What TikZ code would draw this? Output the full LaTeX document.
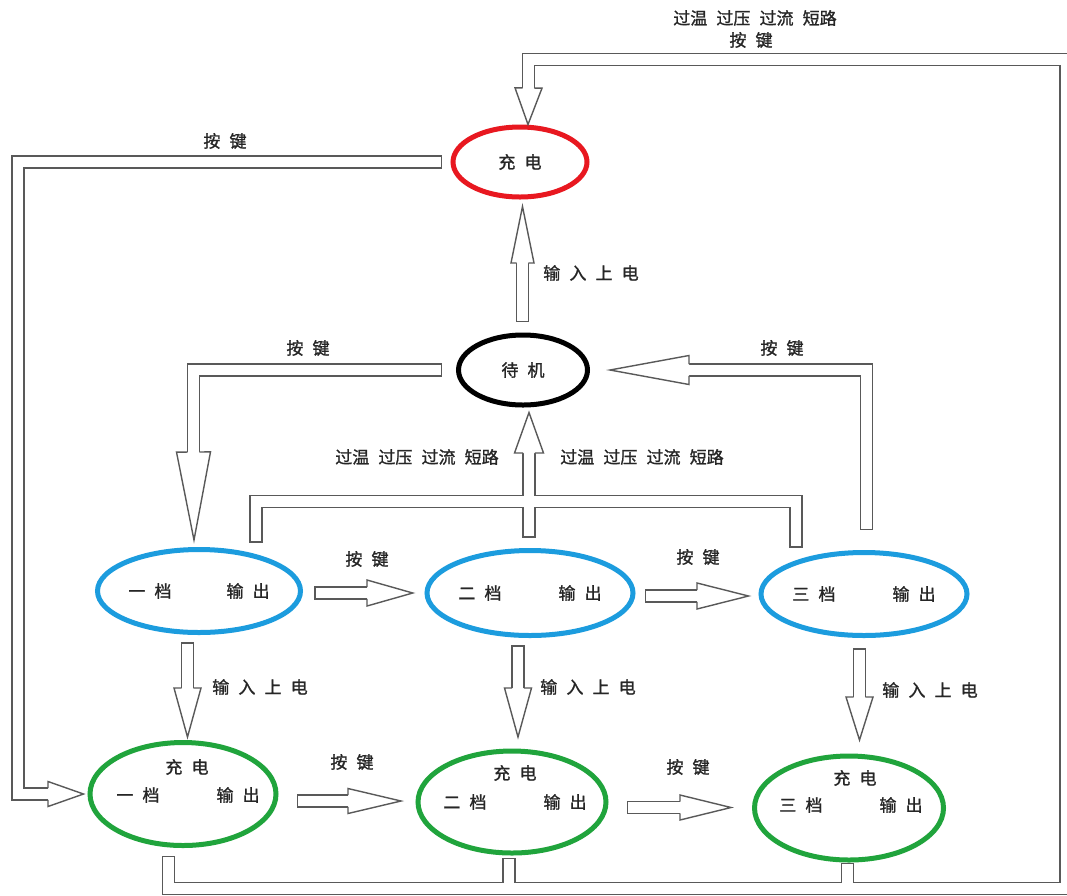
\documentclass[tikz,border=0pt]{standalone}
\usepackage{fontspec}
\newfontfamily\cjk[WordSpace=2.4, FakeBold=1.2]{Noto Sans CJK SC}
\usetikzlibrary{shapes.geometric,calc}

\definecolor{chgred}{RGB}{232,24,32}
\definecolor{gearblue}{RGB}{28,156,222}
\definecolor{chggreen}{RGB}{32,164,60}

\begin{document}
\begin{tikzpicture}[
    x=1pt, y=-1pt,
    every node/.style={font=\cjk\fontsize{17}{20}\selectfont, text=black!85, inner sep=0pt},
    modebox/.style={ellipse, draw, line width=5pt},
    shaft/.style={draw=black!65, line width=1.4pt, double=white, double distance=10.3pt,
                  line cap=rect, line join=miter},
    hollowtip/.style={draw=black!65, fill=white, line width=1.4pt, line join=miter,
        to path={($(\tikztostart)!5.85pt!90:(\tikztotarget)$) -- ($(\tikztostart)!#1!90:(\tikztotarget)$)
                 -- (\tikztotarget) -- ($(\tikztostart)!#1!-90:(\tikztotarget)$)
                 -- ($(\tikztostart)!5.85pt!-90:(\tikztotarget)$)}},
    hollowtip/.default=13.5pt]
    \fill[white] (0,0) rectangle (1067,895);
    \useasboundingbox (0,0) rectangle (1067,895);

    % Zustaende
    \node[modebox, draw=chgred, minimum width=134pt, minimum height=70pt] (c) at (520,162) {充~电};
    \node[modebox, draw=black, minimum width=129pt, minimum height=70pt] (w) at (523,370) {待~机};
    \node[modebox, draw=gearblue, minimum width=203pt, minimum height=83pt] (b1) at (199,591) {一~档\hspace{55pt}输~出};
    \node[modebox, draw=gearblue, minimum width=206pt, minimum height=85pt] (b2) at (530,593) {二~档\hspace{57pt}输~出};
    \node[modebox, draw=gearblue, minimum width=206pt, minimum height=83pt] (b3) at (864,594) {三~档\hspace{57pt}输~出};
    \node[modebox, draw=chggreen, minimum width=186pt, minimum height=103pt] (g1) at (183,794) {};
    \node[modebox, draw=chggreen, minimum width=188pt, minimum height=102pt] (g2) at (512,802) {};
    \node[modebox, draw=chggreen, minimum width=189pt, minimum height=104pt] (g3) at (849,808) {};
    \node (g1c) at ($(g1)+(4,-27)$) {充~电};
    \node (g1t) at ($(g1)+(5,1)$) {一~档\hspace{57pt}输~出};
    \node (g2c) at ($(g2)+(3,-29)$) {充~电};
    \node (g2t) at ($(g2)+(3,0)$) {二~档\hspace{57pt}输~出};
    \node (g3c) at ($(g3)+(6,-30)$) {充~电};
    \node (g3t) at ($(g3)+(2,-3)$) {三~档\hspace{57pt}输~出};

    % Rueckfuehrung zum Laden
    \draw[shaft] ($(g1.south)+(-14.5,14.5)$) -- (168.5,888.5) -- (1066,888.5) |- (528.5,59.5) -- (528.5,88)
                 ($(g2.south)+(-3,9)$) -- (509,888.5)
                 ($(g3.south)+(-1.5,7)$) -- (847.5,888.5);
    \filldraw[hollowtip] (528.5,88) to ($(c.north)+(8,0)$);
    \draw[shaft] ($(c.west)+(-15,0)$) -| (18,794) -- (48,794);
    \filldraw[hollowtip=12.5pt] (48,794) to ($(g1.west)+(-4,0)$);

    % Standby
    \draw[shaft] ($(w.north)+(-0.5,-17)$) -- (522.5,263);
    \filldraw[hollowtip=11.5pt] (522.5,263) to ($(c.south)+(2.5,7)$);
    \draw[shaft] ($(w.west)+(-20.5,0)$) -| (193.5,452);
    \filldraw[hollowtip=17pt] (193.5,452) to ($(b1.north)+(-5,-7)$);
    \draw[shaft] ($(b3.north)+(2.5,-26.5)$) |- (689,370);
    \filldraw[hollowtip=14.5pt] (689,370) to ($(w.east)+(20,0)$);

    % Fehler
    \draw[shaft] ($(b1.north)+(57,-10.75)$) |- (796,501.5) -- ($(b3.north)+(-68,-8.75)$)
                 ($(b2.north)+(-1,-16.75)$) -- (529,453);
    \filldraw[hollowtip=14.5pt] (529,453) to ($(w.south)+(6,5)$);

    % Gangwechsel
    \draw[shaft] ($(b1.east)+(17.75,2)$) -- (367,593);
    \filldraw[hollowtip=13pt] (367,593) to ($(b2.west)+(-11.75,0)$);
    \draw[shaft] ($(b2.east)+(16,3)$) -- (697,596);
    \filldraw[hollowtip=13pt] (697,596) to ($(b3.west)+(-10,2)$);
    \draw[shaft] ($(g1.east)+(25,7)$) -- (348,801);
    \filldraw[hollowtip=12.5pt] (348,801) to ($(g2.west)+(-14.5,-1)$);
    \draw[shaft] ($(g2.east)+(25,5.5)$) -- (680,807.5);
    \filldraw[hollowtip=12.5pt] (680,807.5) to ($(g3.west)+(-21,-0.5)$);

    % Eingang
    \draw[shaft] ($(b1.south)+(-11.5,13.75)$) -- (187.5,688);
    \filldraw[hollowtip] (187.5,688) to ($(g1.north)+(4.5,-3)$);
    \draw[shaft] ($(b2.south)+(-12,13.75)$) -- (518,688);
    \filldraw[hollowtip] (518,688) to ($(g2.north)+(6,-11.5)$);
    \draw[shaft] ($(b3.south)+(-4.5,16.75)$) -- (859.5,697);
    \filldraw[hollowtip] (859.5,697) to ($(g3.north)+(10.5,-13.5)$);

    % Beschriftungen
    \node (ltop) at (755,18) {过温~过压~过流~短路};
    \node (ktop) at (751,40) {按~键};
    \node (kleft) at (225,141) {按~键};
    \node (pup) at (591,273) {输~入~上~电};
    \node (kwl) at (308,348) {按~键};
    \node (kwr) at (782,348) {按~键};
    \node (fl) at (417,457) {过温~过压~过流~短路};
    \node (fr) at (642,457) {过温~过压~过流~短路};
    \node (k12) at (367,559) {按~键};
    \node (k23) at (698,557) {按~键};
    \node (p1) at (260,687) {输~入~上~电};
    \node (p2) at (588,687) {输~入~上~电};
    \node (p3) at (930,690) {输~入~上~电};
    \node (kg12) at (352,762) {按~键};
    \node (kg23) at (688,767) {按~键};
\end{tikzpicture}
\end{document}
